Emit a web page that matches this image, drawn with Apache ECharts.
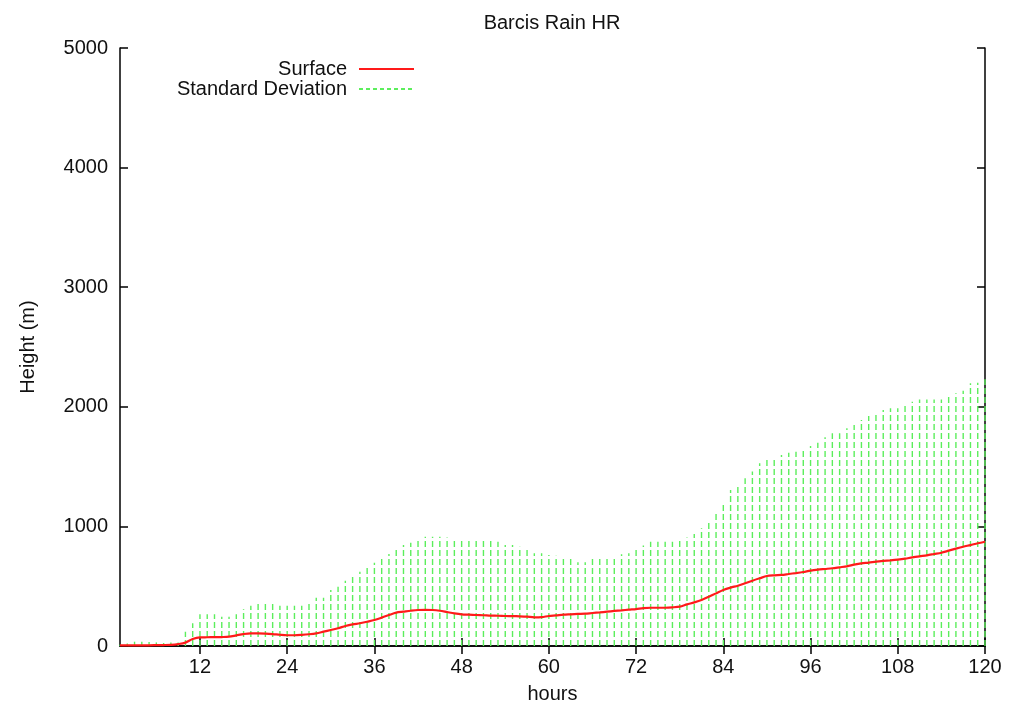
<!DOCTYPE html>
<html>
<head>
<meta charset="utf-8">
<title>Barcis Rain HR</title>
<script src="https://cdn.jsdelivr.net/npm/echarts@6/dist/echarts.min.js"></script>
<style>
  html, body { margin: 0; padding: 0; background: #fff; }
  #main { width: 1017px; height: 706px; }
</style>
</head>
<body>
<div id="main"></div>
<script>
// hourly values, hour 1 .. 120
var surface = [
  5, 5, 6, 6, 6, 7, 8, 10, 16, 28, 58, 72,
  73, 74, 75, 78, 89, 100, 106, 106, 104, 100, 94, 90,
  90, 93, 98, 106, 120, 134, 148, 167, 181, 190, 203, 217,
  237, 259, 279, 287, 295, 301, 302, 301, 295, 284, 273, 265,
  262, 259, 257, 254, 253, 251, 250, 248, 245, 240, 242, 251,
  256, 262, 265, 268, 270, 276, 281, 287, 293, 298, 304, 309,
  317, 320, 320, 320, 323, 329, 348, 365, 385, 412, 440, 468,
  488, 504, 524, 546, 566, 585, 591, 594, 602, 610, 619, 630,
  638, 644, 650, 658, 666, 680, 691, 697, 705, 711, 716, 722,
  730, 741, 750, 758, 769, 780, 797, 814, 830, 844, 859, 872
];
var sdTop = [
  10, 20, 36, 36, 34, 30, 25, 30, 30, 120, 190, 265,
  265, 265, 245, 245, 265, 307, 337, 351, 376, 351, 337, 337,
  337, 337, 376, 404, 404, 468, 496, 546, 594, 621, 663, 697,
  738, 769, 817, 844, 864, 892, 914, 914, 914, 908, 895, 895,
  884, 886, 886, 878, 872, 844, 844, 830, 808, 775, 775, 761,
  755, 747, 733, 700, 700, 733, 733, 747, 747, 767, 775, 825,
  840, 872, 872, 872, 872, 881, 908, 936, 984, 1040, 1123, 1198,
  1304, 1346, 1402, 1458, 1527, 1555, 1561, 1597, 1616, 1625, 1633, 1672,
  1700, 1745, 1778, 1778, 1820, 1848, 1890, 1923, 1931, 1973, 1987, 1987,
  2029, 2043, 2062, 2062, 2062, 2062, 2099, 2113, 2134, 2196, 2202, 2230
];
var xTicks = [12, 24, 36, 48, 60, 72, 84, 96, 108, 120];

var surfaceData = surface.map(function (v, i) { return [i + 1, v]; });
var sdData = sdTop.map(function (v, i) { return [i + 1, v]; });

var font = 'Liberation Sans, Arial, sans-serif';
var fs = 20;
var green = '#5cee5c';
var axisLine = { show: true, lineStyle: { color: '#000', width: 1.5 } };
var tick = { inside: true, length: 8, lineStyle: { color: '#000', width: 1.5 } };

function legendFor(name, top) {
  return {
    data: [name],
    right: 602, top: top,
    padding: 0,
    align: 'right', orient: 'vertical',
    itemWidth: 55, itemHeight: 16,
    itemStyle: { opacity: 0 },
    textStyle: { fontSize: fs, color: '#111', fontFamily: font, padding: [0, 7, 0, 0] }
  };
}

var chart = echarts.init(document.getElementById('main'));
chart.setOption({
  animation: false,
  backgroundColor: '#fff',
  textStyle: { fontFamily: font },
  title: {
    text: 'Barcis Rain HR',
    left: 547,
    textAlign: 'center',
    top: 8,
    textStyle: { fontSize: fs, fontWeight: 'normal', color: '#111', fontFamily: font }
  },
  legend: [legendFor('Surface', 59), legendFor('Standard Deviation', 79)],
  grid: { left: 120, right: 32, top: 48, bottom: 60, outerBoundsMode: 'none' },
  xAxis: [
    {
      type: 'value', position: 'bottom', min: 1, max: 120,
      name: 'hours', nameLocation: 'middle', nameGap: 38,
      nameTextStyle: { fontSize: fs, color: '#111', fontFamily: font },
      axisLine: axisLine,
      axisTick: Object.assign({ customValues: xTicks }, tick),
      axisLabel: { customValues: xTicks, fontSize: fs, color: '#111', margin: 11, fontFamily: font },
      splitLine: { show: false }
    },
    {
      type: 'value', position: 'top', min: 1, max: 120,
      axisLine: axisLine,
      axisTick: Object.assign({ customValues: xTicks }, tick),
      axisLabel: { show: false },
      splitLine: { show: false }
    }
  ],
  yAxis: [
    {
      type: 'value', position: 'left', min: 0, max: 5000, interval: 1000,
      name: 'Height (m)', nameLocation: 'middle', nameGap: 82, nameRotate: 90,
      nameTextStyle: { fontSize: fs, color: '#111', fontFamily: font },
      axisLine: axisLine,
      axisTick: tick,
      axisLabel: {
        fontSize: fs, color: '#111', margin: 12, fontFamily: font,
        formatter: function (v) { return String(v); }
      },
      splitLine: { show: false }
    },
    {
      type: 'value', position: 'right', min: 0, max: 5000, interval: 1000,
      axisLine: axisLine,
      axisTick: tick,
      axisLabel: { show: false },
      splitLine: { show: false }
    }
  ],
  series: [
    {
      name: 'Surface',
      type: 'line',
      data: surfaceData,
      symbol: 'none',
      smooth: 0.3,
      z: 5,
      lineStyle: { color: '#ff1a1a', width: 2.2 },
      itemStyle: { color: '#ff1a1a' }
    },
    {
      // legend sample only
      name: 'Standard Deviation',
      type: 'line',
      data: [],
      symbol: 'none',
      lineStyle: { color: green, width: 1, type: [4, 3] },
      itemStyle: { color: green }
    },
    {
      name: 'sd bars',
      type: 'custom',
      data: sdData,
      z: 2,
      renderItem: function (params, api) {
        var p0 = api.coord([api.value(0), 0]);
        var p1 = api.coord([api.value(0), api.value(1)]);
        return {
          type: 'line',
          shape: { x1: p0[0], y1: p0[1], x2: p1[0], y2: p1[1] },
          style: { stroke: green, lineWidth: 1.4, lineDash: [6, 3] }
        };
      }
    }
  ]
});
</script>
</body>
</html>
